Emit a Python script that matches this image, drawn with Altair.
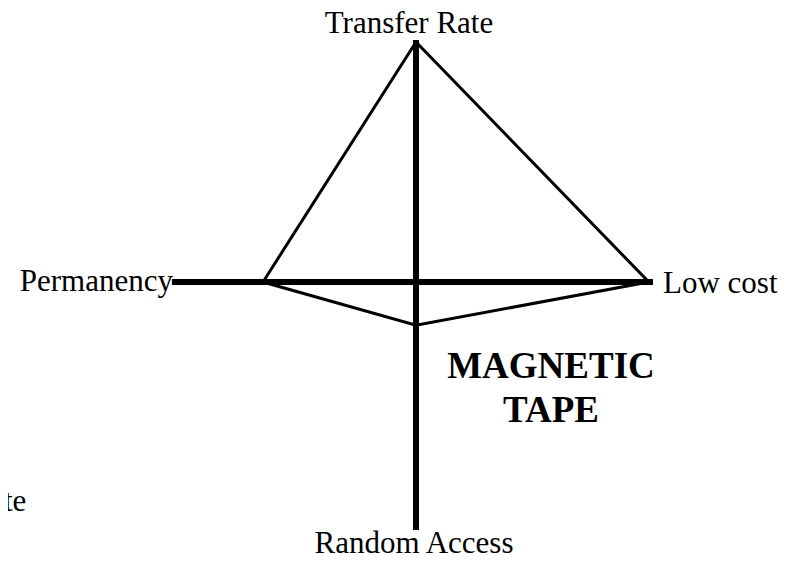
import altair as alt
import pandas as pd

# ---- data ----
axis_names = ["Transfer Rate", "Low cost", "Random Access", "Permanency"]
axis_dir_x = [0, 1, 0, -1]
axis_dir_y = [1, 0, -1, 0]
axis_lengths = [10.08, 9.875, 10.33, 10.17]      # length of each drawn axis arm
tape_scores = [10.0, 9.7, 1.8, 6.375]            # magnetic tape rating on each axis
title_lines = ["MAGNETIC", "TAPE"]
title_x = [5.625, 5.625]
title_y = [-4.0, -5.833]
stray_text = ["te"]
stray_x = [-17.0]
stray_y = [-9.54]

FONT = "Liberation Serif"

# ---- tables ----
axes_df = pd.DataFrame({
    "name": axis_names,
    "x": [0.0] * 4,
    "y": [0.0] * 4,
    "x2": [dx * l for dx, l in zip(axis_dir_x, axis_lengths)],
    "y2": [dy * l for dy, l in zip(axis_dir_y, axis_lengths)],
})

order = [0, 1, 2, 3, 0]
poly_df = pd.DataFrame({
    "i": list(range(len(order))),
    "x": [axis_dir_x[k] * tape_scores[k] for k in order],
    "y": [axis_dir_y[k] * tape_scores[k] for k in order],
})

xs = alt.Scale(domain=[-17, 15.75], nice=False, zero=False)
ys = alt.Scale(domain=[-11.2917, 11.4167], nice=False, zero=False)

X = lambda f: alt.X(f, type="quantitative", scale=xs, axis=None)
Y = lambda f: alt.Y(f, type="quantitative", scale=ys, axis=None)

polygon = alt.Chart(poly_df).mark_line(color="black", strokeWidth=3, clip=False).encode(
    x=X("x"), y=Y("y"), order="i:Q"
)

axes = alt.Chart(axes_df).mark_rule(color="black", strokeWidth=6, strokeCap="butt").encode(
    x=X("x"), y=Y("y"), x2="x2:Q", y2="y2:Q"
)

label_style = {
    "Transfer Rate": dict(align="center", dx=-7, dy=-7),
    "Low cost": dict(align="left", dx=10, dy=11),
    "Random Access": dict(align="center", dx=-2, dy=23),
    "Permanency": dict(align="right", dx=1, dy=9),
}

label_layers = []
for k, name in enumerate(axis_names):
    df = pd.DataFrame({
        "name": [name],
        "x": [axis_dir_x[k] * axis_lengths[k]],
        "y": [axis_dir_y[k] * axis_lengths[k]],
    })
    st = label_style[name]
    label_layers.append(
        alt.Chart(df).mark_text(
            font=FONT, fontSize=31, color="black", baseline="alphabetic",
            align=st["align"], dx=st["dx"], dy=st["dy"]
        ).encode(x=X("x"), y=Y("y"), text="name:N")
    )

title_df = pd.DataFrame({"t": title_lines, "x": title_x, "y": title_y})
title = alt.Chart(title_df).mark_text(
    font=FONT, fontSize=37, fontWeight="bold", color="black",
    align="center", baseline="alphabetic"
).encode(x=X("x"), y=Y("y"), text="t:N")

stray_df = pd.DataFrame({"t": stray_text, "x": stray_x, "y": stray_y})
stray = alt.Chart(stray_df).mark_text(
    font=FONT, fontSize=31, color="black", align="left", baseline="alphabetic", dx=-4
).encode(x=X("x"), y=Y("y"), text="t:N")

chart = alt.layer(polygon, axes, *label_layers, title, stray).properties(
    width=786, height=545, padding=0, autosize=alt.AutoSizeParams(type="none")
).configure_view(stroke=None, strokeWidth=0)

chart.save("out.html", embed_options={"renderer": "svg", "actions": False})
